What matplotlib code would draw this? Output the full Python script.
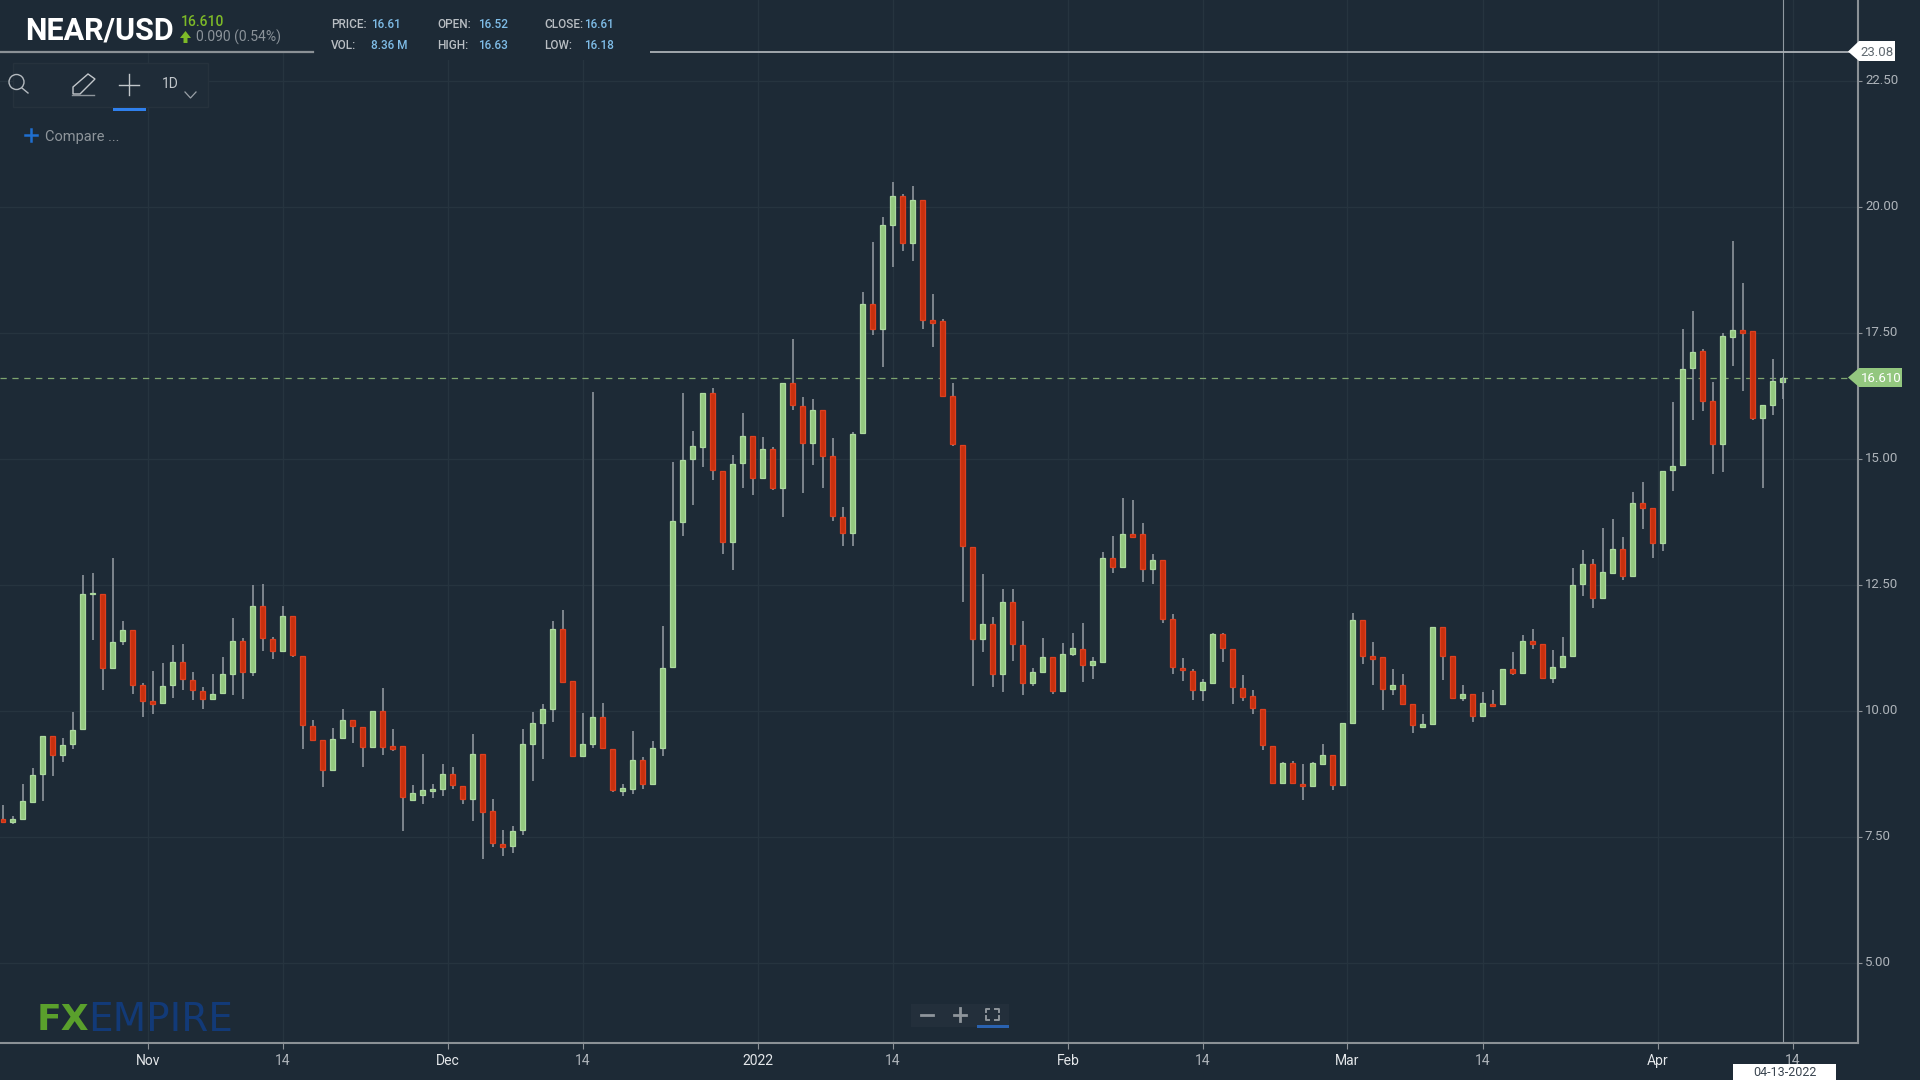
import matplotlib
matplotlib.use("Agg")
import matplotlib.pyplot as plt
from matplotlib.patches import Rectangle, Polygon, Circle, FancyBboxPatch
from matplotlib.lines import Line2D

plt.rcParams['font.family'] = ['Roboto', 'DejaVu Sans']

opens = [7.86,7.80,7.86,8.19,8.74,9.50,9.12,9.35,9.64,12.32,
12.32,10.85,11.38,11.61,10.52,10.19,10.16,10.51,10.96,10.61,
10.39,10.23,10.36,10.73,11.38,10.78,12.08,11.43,11.18,11.88,
11.08,9.70,9.42,8.82,9.46,9.82,9.67,9.29,9.99,9.31,
9.30,8.23,8.33,8.40,8.45,8.75,8.51,8.25,9.15,8.01,
7.36,7.31,7.63,9.34,9.76,10.04,11.63,10.59,9.11,9.34,
9.87,9.25,8.40,8.45,9.03,8.55,9.27,10.88,13.75,14.99,
15.24,16.30,14.76,13.35,14.92,15.45,14.62,15.20,14.42,16.51,
16.04,15.32,15.97,15.05,13.84,13.53,15.52,18.08,17.58,19.64,
20.21,19.29,20.14,17.76,17.74,16.24,15.28,13.25,11.43,11.73,
10.74,12.15,11.31,10.56,10.78,11.06,10.39,11.13,11.23,10.91,
10.97,13.04,12.86,13.51,13.51,12.82,13.00,11.83,10.86,10.79,
10.41,10.56,11.53,11.23,10.46,10.29,10.04,9.30,8.57,8.97,
8.55,8.50,8.94,9.12,8.53,9.76,11.81,11.08,11.06,10.44,
10.51,10.14,9.68,9.74,11.66,11.08,10.26,10.34,9.89,10.14,
10.13,10.83,10.75,11.38,11.33,10.65,10.87,11.08,12.51,12.92,
12.24,12.74,13.21,12.67,14.13,14.03,13.33,14.78,14.87,16.81,
17.14,16.14,15.29,17.42,17.56,17.53,15.81,16.06,16.52]

highs = [8.14,7.92,8.55,8.87,9.50,9.50,9.46,9.98,12.69,12.74,
12.32,13.04,11.79,11.61,10.56,10.80,10.95,11.30,11.33,10.78,
10.48,10.73,11.07,11.85,11.45,12.49,12.52,11.47,12.09,11.88,
11.08,9.81,9.42,9.66,10.04,9.82,9.67,9.99,10.46,9.64,
9.30,8.52,9.14,8.55,8.95,8.89,8.51,9.54,9.15,8.25,
7.63,7.72,9.64,9.98,10.13,11.79,12.00,10.59,9.96,16.33,
10.16,9.25,8.55,9.61,9.09,9.41,11.69,14.94,16.31,15.56,
16.30,16.41,14.76,15.07,15.91,15.45,15.44,15.24,16.51,17.37,
16.23,16.19,15.97,15.42,14.05,15.54,18.31,19.30,19.80,20.49,
20.26,20.42,20.14,18.28,17.78,16.51,15.28,13.25,12.71,11.87,
12.42,12.42,11.79,10.86,11.45,11.06,11.35,11.55,11.75,11.07,
13.15,13.46,14.23,14.18,13.73,13.11,13.00,11.92,11.05,10.83,
10.63,11.55,11.55,11.23,10.71,10.41,10.04,9.30,8.99,9.01,
8.94,8.99,9.34,9.12,9.76,11.94,11.81,11.37,11.06,10.83,
10.73,10.14,9.94,11.66,11.66,11.08,10.51,10.34,10.38,10.41,
10.83,11.17,11.50,11.63,11.33,11.20,11.47,12.84,13.19,13.01,
13.63,13.81,13.45,14.35,14.54,14.03,14.76,16.13,17.57,17.94,
17.18,16.53,17.50,19.33,18.49,17.53,16.07,16.98,16.63]

lows = [7.78,7.76,7.86,8.19,8.21,8.70,8.98,9.25,9.64,11.40,
10.41,10.85,11.30,10.34,9.87,9.94,10.16,10.26,10.41,10.21,
10.04,10.23,10.34,10.31,10.24,10.69,11.18,11.03,11.18,11.06,
9.25,9.42,8.48,8.82,9.46,9.37,8.88,9.29,9.12,9.20,
7.61,8.21,8.16,8.28,8.31,8.45,8.16,7.81,7.06,7.29,
7.12,7.17,7.54,8.60,9.05,9.78,10.57,9.10,9.11,9.27,
9.25,8.39,8.31,8.35,8.45,8.55,9.10,10.88,13.47,14.09,
14.83,14.58,13.12,12.79,14.43,14.29,14.62,14.38,13.84,15.97,
14.33,14.87,14.43,13.76,13.27,13.27,15.52,17.46,16.82,18.81,
19.12,18.92,17.58,17.22,16.22,15.25,12.15,10.49,11.16,10.47,
10.37,10.98,10.31,10.49,10.78,10.34,10.39,11.08,10.57,10.64,
10.97,12.74,12.86,13.45,12.55,12.52,11.75,10.73,10.59,10.21,
10.19,10.56,10.96,10.14,10.19,9.94,9.23,8.55,8.57,8.55,
8.23,8.49,8.92,8.43,8.53,9.76,10.93,10.52,10.02,10.31,
10.13,9.57,9.67,9.74,10.61,10.26,10.19,9.77,9.89,10.07,
10.13,10.71,10.75,11.23,10.63,10.56,10.87,11.08,12.28,12.05,
12.24,12.74,12.59,12.67,13.61,13.04,13.17,14.36,14.87,15.77,
15.95,14.70,14.73,16.84,16.34,15.77,14.43,15.87,16.18]

closes = [7.80,7.86,8.21,8.73,9.50,9.12,9.33,9.62,12.32,12.33,
10.85,11.36,11.61,10.51,10.19,10.13,10.50,10.97,10.63,10.41,
10.23,10.34,10.73,11.38,10.78,12.08,11.44,11.18,11.88,11.10,
9.72,9.43,8.82,9.44,9.82,9.69,9.29,9.99,9.29,9.24,
8.30,8.38,8.43,8.45,8.75,8.53,8.25,9.15,8.00,7.38,
7.30,7.61,9.35,9.75,10.04,11.63,10.58,9.11,9.35,9.87,
9.26,8.43,8.46,9.03,8.55,9.27,10.86,13.76,14.98,15.25,
16.30,14.78,13.35,14.90,15.45,14.62,15.20,14.42,16.51,16.06,
15.32,15.97,15.05,13.86,13.53,15.50,18.08,17.58,19.64,20.21,
19.29,20.14,17.75,17.70,16.24,15.29,13.27,11.43,11.73,10.74,
12.15,11.33,10.56,10.77,11.06,10.39,11.13,11.24,10.91,10.99,
13.04,12.86,13.51,13.45,12.82,13.00,11.83,10.88,10.81,10.41,
10.57,11.53,11.24,10.48,10.28,10.06,9.32,8.57,8.97,8.57,
8.50,8.96,9.13,8.53,9.75,11.81,11.08,11.03,10.44,10.51,
10.13,9.72,9.74,11.66,11.08,10.26,10.34,9.89,10.15,10.09,
10.83,10.75,11.38,11.32,10.65,10.87,11.08,12.50,12.92,12.24,
12.75,13.21,12.67,14.13,14.02,13.33,14.76,14.85,16.79,17.12,
16.14,15.29,17.43,17.56,17.50,15.81,16.07,16.55,16.61]

x_tick_pos = [14.5, 28, 44.5, 58, 75.5, 89, 106.5, 120, 134.4, 148, 165.5, 179]
x_tick_lab = ['Nov', '14', 'Dec', '14', '2022', '14', 'Feb', '14', 'Mar', '14', 'Apr', '14']
y_tick_val = [5, 7.5, 10, 12.5, 15, 17.5, 20, 22.5]
last_price = 16.61
cross_price = 23.08
cross_index = 178

BG = '#1d2a36'
GRID = '#26343f'
AXIS = '#8b9196'
TXT = '#aeb4ba'
UP = '#93c77f'
UP_E = '#acd99e'
DN = '#c8300e'
DN_E = '#dd4020'
WICK = '#8d949b'

fig = plt.figure(figsize=(19.2, 10.8), dpi=100, facecolor=BG)
ax = fig.add_axes([0, 37/1080, 1858/1920, 1043/1080], facecolor=BG)
ax.set_xlim(-0.3, 185.5)
ax.set_ylim(3.41, 24.104)

ax.set_xticks(x_tick_pos)
ax.set_xticklabels(x_tick_lab)
ax.set_yticks(y_tick_val)
ax.set_yticklabels([f'{v:.2f}' for v in y_tick_val])
ax.yaxis.tick_right()
ax.grid(True, color=GRID, lw=1.0)
ax.set_axisbelow(True)
for s in ('top', 'left'):
    ax.spines[s].set_visible(False)
for s in ('right', 'bottom'):
    ax.spines[s].set_color(AXIS)
    ax.spines[s].set_linewidth(1.5)
ax.tick_params(axis='y', length=3, width=0.8, color=AXIS, labelcolor=TXT, labelsize=9.5, pad=2)
ax.tick_params(axis='x', length=4.5, width=0.8, color=AXIS, labelcolor=TXT, labelsize=10, pad=3.3)
for lab in ax.get_xticklabels():
    lab.set_color(TXT if lab.get_text() == '14' else '#e4e7ea')
for lab in ax.get_yticklabels():
    lab.set_va('center')

idx = list(range(len(opens)))
ax.vlines(idx, lows, highs, color=WICK, lw=1.2, zorder=2)
for i, o, c in zip(idx, opens, closes):
    up = c >= o
    ax.bar(i, abs(c - o), bottom=min(o, c), width=0.5, color=UP if up else DN,
           edgecolor=UP_E if up else DN_E, linewidth=0.9, zorder=3)

ax.plot([-0.3, 184.5], [last_price, last_price], color='#7ea56f', lw=0.9, dashes=(5, 4.5), zorder=1.5)
ax.axvline(cross_index + 0.05, color='#8f98a0', lw=0.8, zorder=4)
ax.plot([64.7, 185.5], [cross_price, cross_price], color='#abb1b6', lw=1.3, zorder=4, solid_capstyle='butt')

# interface overlay in pixel coordinates
ui = fig.add_axes([0, 0, 1, 1], facecolor='none')
ui.set_xlim(0, 1920)
ui.set_ylim(1080, 0)
ui.axis('off')

ui.add_patch(Rectangle((0, 0), 313, 51, fc=BG, ec='none', zorder=0))
ui.add_patch(Rectangle((313, 0), 337, 60, fc=BG, ec='none', zorder=0))
ui.add_line(Line2D([0, 313], [52, 52], color=AXIS, lw=1.6))

ui.text(25, 30, 'NEAR/USD', color='white', fontsize=22, fontweight='bold', va='center', ha='left')
ui.text(181, 22.5, '16.610', color='#7db928', fontsize=10, fontweight='medium', va='center')
ui.add_patch(Polygon([[180, 38], [185.5, 31], [191, 38], [187.5, 38], [187.5, 43], [183.5, 43], [183.5, 38]], fc='#7db928', ec='none'))
ui.text(196, 37.5, '0.090 (0.54%)', color='#8b939a', fontsize=10, va='center')

rows = [('PRICE:', '16.61', 'OPEN:', '16.52', 'CLOSE:', '16.61'),
        ('VOL:', '8.36 M', 'HIGH:', '16.63', 'LOW:', '16.18')]
xs = [331, 371, 437, 478, 544, 584]
for y, row in zip([24.5, 45.5], rows):
    for j, (xp, t) in enumerate(zip(xs, row)):
        ui.text(xp, y, t, color='#7fbde8' if j % 2 else '#b9bec3', fontsize=8.5, va='center', fontweight='medium')

# toolbar
ui.add_patch(Rectangle((13, 63), 194.5, 44, fc='#1f2c38', ec='#26323d', lw=1))
ui.add_patch(Circle((16.5, 82), 7.5, fc='none', ec='#b4babf', lw=1.0))
ui.add_line(Line2D([22, 28], [88, 93], color='#b4babf', lw=1.0))
ui.add_line(Line2D([72, 94], [95, 95], color='#8e959b', lw=1.0))
ui.add_patch(Polygon([[73, 94], [73, 87], [88, 74], [95, 79], [80, 94]], fc='none', ec='#c2c7cb', lw=1.0))
ui.add_line(Line2D([119, 139], [84.5, 84.5], color='#c2c7cb', lw=1.0))
ui.add_line(Line2D([129, 129], [74, 95], color='#c2c7cb', lw=1.0))
ui.add_patch(Rectangle((113, 108), 33, 3, fc='#2f80ed', ec='none'))
ui.text(162, 84.5, '1D', color='#c2c7cb', fontsize=10, va='center')
ui.add_line(Line2D([185, 190.5, 196], [92, 98, 92], color='#9aa1a7', lw=0.9))
ui.add_line(Line2D([25, 37], [135, 135], color='#1f6fd0', lw=1.8))
ui.add_line(Line2D([31, 31], [129, 141], color='#1f6fd0', lw=1.8))
ui.text(45, 137, 'Compare ...', color='#8e959b', fontsize=10.5, va='center')

# logo
ui.text(37, 1020, 'FX', color='#5aa02c', fontsize=26, fontweight='bold', va='center', family='DejaVu Sans')
ui.text(88, 1020, 'EMPIRE', color='#123a78', fontsize=28, va='center', family='DejaVu Sans')

# zoom control
ui.add_patch(Rectangle((910.5, 1004), 98.5, 23, fc='#232f3b', ec='none'))
ui.add_line(Line2D([921, 933], [1014.5, 1014.5], color='#8e959b', lw=2))
ui.add_line(Line2D([954, 966], [1014.5, 1014.5], color='#8e959b', lw=2))
ui.add_line(Line2D([960, 960], [1008, 1021], color='#8e959b', lw=2))
for sx in (-1, 1):
    for sy in (-1, 1):
        cx, cy = 992 + sx * 6.5, 1014 + sy * 5.5
        ui.add_line(Line2D([cx - sx * 3.5, cx, cx], [cy, cy, cy - sy * 3.5], color='#8e959b', lw=1.4))
ui.add_patch(Rectangle((977, 1025), 32, 2.5, fc='#2a62b0', ec='none'))

# price tags
ui.add_patch(Polygon([[1848, 377.5], [1859, 368], [1902, 368], [1902, 387], [1859, 387]], fc=UP, ec='none', zorder=5))
ui.text(1881, 378, '16.610', color='white', fontsize=9.5, ha='center', va='center', zorder=6)
ui.add_patch(Polygon([[1848, 51.5], [1859, 41], [1895, 41], [1895, 61], [1859, 61]], fc='white', ec='none', zorder=5))
ui.text(1877, 52, '23.08', color='#5f686f', fontsize=9.5, ha='center', va='center', zorder=6)
ui.add_patch(Rectangle((1733, 1064), 103, 16, fc='white', ec='none', zorder=5))
ui.text(1784.5, 1072, '04-13-2022', color='#3a4550', fontsize=9, ha='center', va='center', zorder=6)

fig.savefig('out.png', dpi=100, facecolor=BG)
